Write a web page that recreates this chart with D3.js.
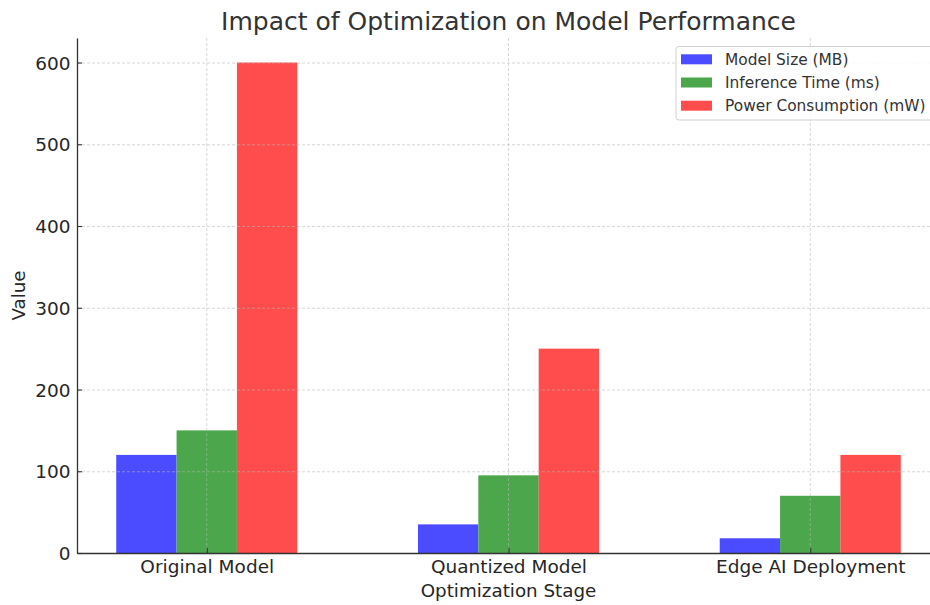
<!DOCTYPE html>
<html>
<head>
<meta charset="utf-8">
<script src="https://cdn.jsdelivr.net/npm/d3@7"></script>
<style>
  html, body { margin: 0; padding: 0; background: #fff; }
  svg { display: block; font-family: "DejaVu Sans", sans-serif; }
</style>
</head>
<body>
<svg id="chart" width="930" height="605"></svg>
<script>
const categories = ["Original Model", "Quantized Model", "Edge AI Deployment"];
const seriesNames = ["Model Size (MB)", "Inference Time (ms)", "Power Consumption (mW)"];
const modelSize = [120, 35, 18];
const inferenceTime = [150, 95, 70];
const powerConsumption = [600, 250, 120];
const yTicks = [0, 100, 200, 300, 400, 500, 600];
const colors = ["#4b4bff", "#4ca64c", "#ff4c4c"];

const series = [modelSize, inferenceTime, powerConsumption];
const barWidth = 0.2;

const svg = d3.select("#chart");
const plot = { left: 77, right: 940, top: 38, bottom: 553 };

const x = d3.scaleLinear().domain([-0.43, 2.43]).range([plot.left, plot.right]);
const y = d3.scaleLinear().domain([0, 630]).range([plot.bottom, plot.top]);

// bars
series.forEach((vals, si) => {
  svg.append("g").selectAll("rect")
    .data(vals)
    .join("rect")
    .attr("x", (d, i) => x(i + (si - 1) * barWidth - barWidth / 2))
    .attr("width", (d, i) => x(i + (si - 1) * barWidth + barWidth / 2) - x(i + (si - 1) * barWidth - barWidth / 2))
    .attr("y", d => y(d))
    .attr("height", d => y(0) - y(d))
    .attr("fill", colors[si]);
});

// grid (drawn on top)
const grid = svg.append("g").attr("stroke", "#b8b8b8").attr("stroke-opacity", 0.7)
  .attr("stroke-width", 0.8).attr("stroke-dasharray", "3,2");
grid.selectAll("line.h").data(yTicks).join("line").attr("class", "h")
  .attr("x1", plot.left).attr("x2", plot.right)
  .attr("y1", d => y(d) + 0.5).attr("y2", d => y(d) + 0.5);
grid.selectAll("line.v").data(categories).join("line").attr("class", "v")
  .attr("x1", (d, i) => x(i)).attr("x2", (d, i) => x(i))
  .attr("y1", plot.top).attr("y2", plot.bottom);

// axes
const yAxis = d3.axisLeft(y).tickValues(yTicks).tickSizeInner(-5).tickSizeOuter(0).tickPadding(11);
const gy = svg.append("g").attr("transform", `translate(${plot.left},0)`).call(yAxis);
const xAxis = d3.axisBottom(x).tickValues([0, 1, 2]).tickFormat(i => categories[i])
  .tickSizeInner(-5).tickSizeOuter(0).tickPadding(13);
const gx = svg.append("g").attr("transform", `translate(0,${plot.bottom})`).call(xAxis);

[gx, gy].forEach(g => {
  g.select(".domain").attr("stroke", "#333").attr("stroke-width", 1.3);
  g.selectAll(".tick line").attr("stroke", "#333").attr("stroke-width", 1.1);
  g.selectAll(".tick text").attr("fill", "#262626").style("font-size", "18.5px")
    .style("font-family", "DejaVu Sans, sans-serif");
});
gy.selectAll(".tick text").attr("x", -6.5).attr("dy", "0.36em");
gx.selectAll(".tick text").attr("y", 20).attr("dy", 0);

// title & labels
svg.append("text").attr("x", (plot.left + plot.right) / 2).attr("y", 30)
  .attr("text-anchor", "middle").attr("fill", "#333").style("font-size", "25px")
  .text("Impact of Optimization on Model Performance");
svg.append("text").attr("x", (plot.left + plot.right) / 2).attr("y", 597)
  .attr("text-anchor", "middle").attr("fill", "#262626").style("font-size", "18.3px")
  .text("Optimization Stage");
svg.append("text").attr("transform", `translate(25,${(plot.top + plot.bottom) / 2}) rotate(-90)`)
  .attr("text-anchor", "middle").attr("fill", "#262626").style("font-size", "18.3px")
  .text("Value");

// legend
const lg = svg.append("g");
lg.append("rect").attr("x", 676).attr("y", 46.5).attr("width", 258).attr("height", 73.5)
  .attr("rx", 3).attr("fill", "#fff").attr("fill-opacity", 0.85)
  .attr("stroke", "#d0d0d0").attr("stroke-width", 1);
seriesNames.forEach((name, i) => {
  const cy = 59.3 + i * 23.2;
  lg.append("rect").attr("x", 681).attr("y", cy - 5).attr("width", 31).attr("height", 10)
    .attr("fill", colors[i]);
  lg.append("text").attr("x", 725).attr("y", cy + 5.3).attr("fill", "#333")
    .style("font-size", "15.4px").text(name);
});
</script>
</body>
</html>
